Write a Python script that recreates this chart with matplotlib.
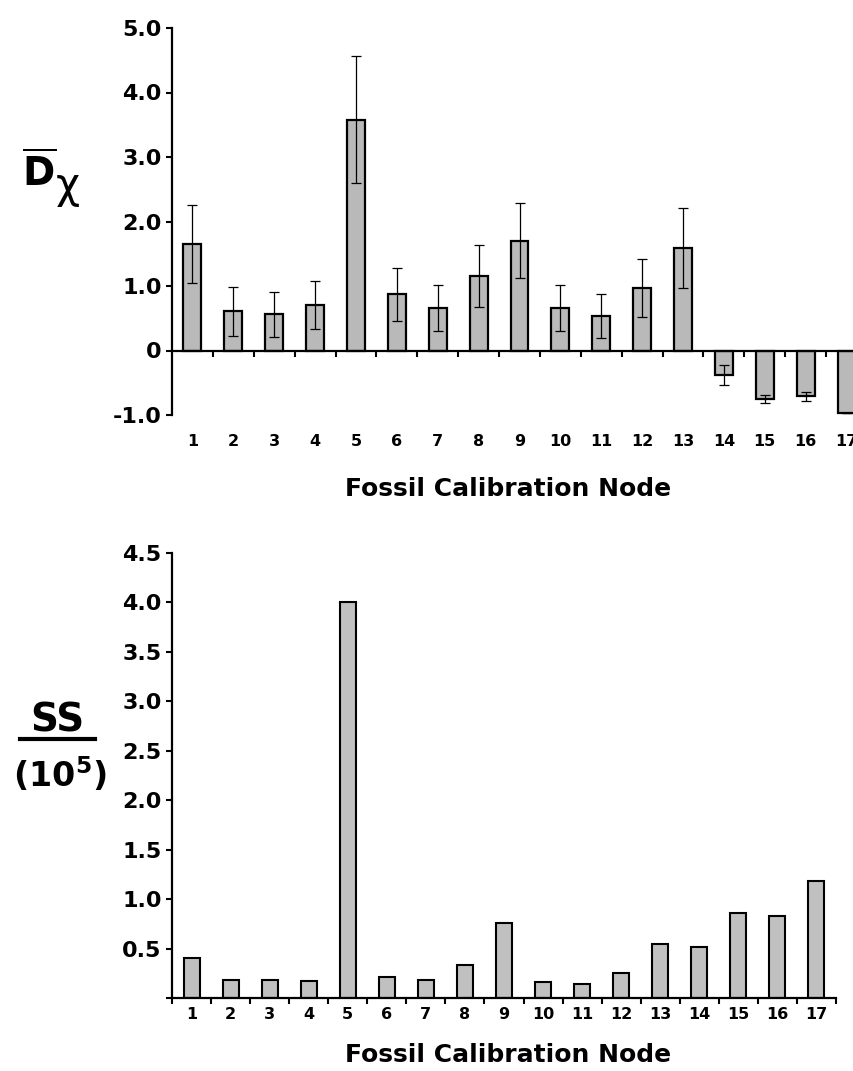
import numpy as np
import matplotlib
matplotlib.use("Agg")
import matplotlib.pyplot as plt
from matplotlib.lines import Line2D

plt.rcParams['font.family'] = ['DejaVu Sans']
plt.rcParams['mathtext.fontset'] = 'dejavusans'

# data
nodes = np.arange(1, 18)
dx_mean = [1.65, 0.61, 0.56, 0.70, 3.58, 0.87, 0.66, 1.16, 1.70, 0.66, 0.54, 0.97, 1.59,
           -0.38, -0.75, -0.71, -0.97]
dx_err = [0.60, 0.38, 0.35, 0.37, 0.98, 0.41, 0.36, 0.48, 0.58, 0.36, 0.34, 0.45, 0.62,
          0.15, 0.06, 0.07, 0.0]
ss = [0.40, 0.18, 0.18, 0.175, 4.0, 0.21, 0.18, 0.33, 0.755, 0.165, 0.145, 0.255, 0.545,
      0.515, 0.855, 0.825, 1.18]

top_yticks = [-1, 0, 1, 2, 3, 4, 5]
top_ylabels = ['-1.0', '0', '1.0', '2.0', '3.0', '4.0', '5.0']
bot_yticks = [0, 0.5, 1.0, 1.5, 2.0, 2.5, 3.0, 3.5, 4.0, 4.5]
bot_ylabels = ['', '0.5', '1.0', '1.5', '2.0', '2.5', '3.0', '3.5', '4.0', '4.5']
xlab = 'Fossil Calibration Node'

W, H = 854, 1071
fig = plt.figure(figsize=(W / 100, H / 100), dpi=100)

# ---- top panel (runs past the right edge, as in the original)
ax1 = fig.add_axes([172 / W, 1 - 415 / H, 695 / W, 387 / H])
ax1.bar(nodes, dx_mean, width=0.44, color='#b9b9b9', edgecolor='black', linewidth=1.6,
        yerr=dx_err, error_kw=dict(ecolor='black', elinewidth=0.9, capsize=3.5, capthick=0.9))
ax1.set_xlim(0.5, 17.5)
ax1.set_ylim(-1, 5)
ax1.spines['top'].set_visible(False)
ax1.spines['right'].set_visible(False)
ax1.spines['bottom'].set_position(('data', 0))
for s in ['left', 'bottom']:
    ax1.spines[s].set_linewidth(1.6)
ax1.set_yticks(top_yticks)
ax1.set_yticklabels(top_ylabels, fontsize=16, fontweight='bold')
ax1.set_xticks(nodes)
ax1.set_xticklabels([str(n) for n in nodes], fontsize=11.5, fontweight='bold')
ax1.set_xticks(nodes[:-1] + 0.5, minor=True)
ax1.tick_params(axis='x', which='major', length=0, pad=60)
ax1.tick_params(axis='x', which='minor', length=4.5, width=1.5, direction='out')
ax1.tick_params(axis='y', length=4.5, width=1.5, direction='out', pad=3)

# ---- bottom panel
ax2 = fig.add_axes([172 / W, 1 - 998 / H, 664 / W, 445 / H])
ax2.bar(nodes, ss, width=0.41, color='#c0c0c0', edgecolor='black', linewidth=1.5)
ax2.set_xlim(0.5, 17.5)
ax2.set_ylim(0, 4.5)
ax2.spines['top'].set_visible(False)
ax2.spines['right'].set_visible(False)
for s in ['left', 'bottom']:
    ax2.spines[s].set_linewidth(1.6)
ax2.set_yticks(bot_yticks)
ax2.set_yticklabels(bot_ylabels, fontsize=16, fontweight='bold')
ax2.set_xticks(nodes)
ax2.set_xticklabels([str(n) for n in nodes], fontsize=11.5, fontweight='bold')
ax2.set_xticks(np.arange(0.5, 18, 1.0), minor=True)
ax2.tick_params(axis='x', which='major', length=0, pad=6.5)
ax2.tick_params(axis='x', which='minor', length=4.5, width=1.5, direction='out')
ax2.tick_params(axis='y', length=4.5, width=1.5, direction='out', pad=3)

# axis titles
fig.text(508 / W, 1 - 489 / H, xlab, ha='center', va='center', fontsize=18, fontweight='bold')
fig.text(508 / W, 1 - 1055 / H, xlab, ha='center', va='center', fontsize=18, fontweight='bold')

# y labels
fig.text(39 / W, 1 - 186 / H, r'$\overline{\mathbf{D}}$', fontsize=28, ha='center', va='baseline')
fig.text(56 / W, 1 - 198 / H, 'χ', fontsize=30, ha='left', va='baseline')

fig.text(57 / W, 1 - 732 / H, 'SS', fontsize=28, fontweight='bold', ha='center', va='baseline')
fig.add_artist(Line2D([20 / W, 95 / W], [1 - 739 / H, 1 - 739 / H], lw=3, color='black'))
fig.text(60 / W, 1 - 787 / H, r'(10$^{\mathbf{5}}$)', fontsize=24, fontweight='bold',
         ha='center', va='baseline')

fig.savefig('out.png', dpi=100)
